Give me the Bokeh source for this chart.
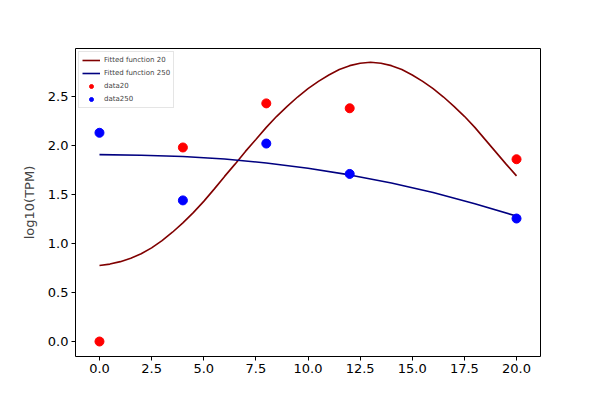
from bokeh.plotting import figure
from bokeh.models import Range1d, FixedTicker, PrintfTickFormatter, Legend, LegendItem
from bokeh.embed import file_html
from bokeh.resources import INLINE

# data points
x_data = [0, 4, 8, 12, 20]
data20 = [0.0, 1.98, 2.43, 2.38, 1.86]
data250 = [2.13, 1.44, 2.02, 1.71, 1.255]

# fitted curves
fit20_x = [0, 0.5, 1, 1.5, 2, 2.5, 3, 3.5, 4, 4.5, 5, 5.5, 6, 6.5, 7, 7.5, 8, 8.5, 9, 9.5,
           10, 10.5, 11, 11.5, 12, 12.5, 13, 13.5, 14, 14.5, 15, 15.5, 16, 16.5, 17, 17.5,
           18, 18.5, 19, 19.5, 20]
fit20 = [0.775, 0.79, 0.815, 0.85, 0.895, 0.955, 1.03, 1.115, 1.21, 1.315, 1.43, 1.555,
         1.685, 1.81, 1.94, 2.062, 2.185, 2.298, 2.40, 2.495, 2.58, 2.655, 2.72, 2.775,
         2.815, 2.84, 2.85, 2.84, 2.815, 2.775, 2.72, 2.655, 2.58, 2.495, 2.40, 2.298,
         2.185, 2.06, 1.935, 1.81, 1.69]
fit250_x = [0, 2, 4, 6, 8, 10, 12, 14, 16, 18, 20]
fit250 = [1.907, 1.901, 1.888, 1.862, 1.822, 1.768, 1.70, 1.617, 1.52, 1.405, 1.28]

x_ticks = [0, 2.5, 5, 7.5, 10, 12.5, 15, 17.5, 20]
y_ticks = [0, 0.5, 1.0, 1.5, 2.0, 2.5]

p = figure(width=584, height=384, output_backend="svg", toolbar_location=None,
           x_range=Range1d(-1.15, 21.15), y_range=Range1d(-0.153, 2.99),
           min_border_left=75, min_border_right=44, min_border_top=48, min_border_bottom=28)
p.xgrid.visible = False
p.ygrid.visible = False
p.outline_line_color = "black"
p.outline_line_width = 1

font = "DejaVu Sans"
for ax in (p.xaxis[0], p.yaxis[0]):
    ax.major_tick_in = 0
    ax.major_tick_out = 4
    ax.minor_tick_in = 0
    ax.minor_tick_out = 0
    ax.major_label_text_font = font
    ax.major_label_text_font_size = "13px"
    ax.major_label_text_color = "black"
    ax.axis_line_color = None
    ax.major_tick_line_color = "black"
    ax.major_label_standoff = 3
    ax.formatter = PrintfTickFormatter(format="%.1f")
p.xaxis.ticker = FixedTicker(ticks=x_ticks)
p.yaxis.ticker = FixedTicker(ticks=y_ticks)
p.yaxis.axis_label = "log10(TPM)"
p.yaxis.axis_label_text_font = font
p.yaxis.axis_label_text_font_size = "13px"
p.yaxis.axis_label_text_font_style = "normal"
p.yaxis.axis_label_standoff = 8

r1 = p.line(fit20_x, fit20, line_color="#800000", line_width=1.6)
r2 = p.line(fit250_x, fit250, line_color="#000080", line_width=1.6)
r3 = p.scatter(x_data, data20, size=9, fill_color="red", line_color="red")
r4 = p.scatter(x_data, data250, size=9, fill_color="blue", line_color="blue")

legend = Legend(items=[
    LegendItem(label="Fitted function 20", renderers=[r1]),
    LegendItem(label="Fitted function 250", renderers=[r2]),
    LegendItem(label="data20", renderers=[r3]),
    LegendItem(label="data250", renderers=[r4]),
], location="top_left")
legend.label_text_font = font
legend.label_text_font_size = "7px"
legend.glyph_height = 10
legend.glyph_width = 18
legend.label_height = 10
legend.label_standoff = 4
legend.spacing = 3
legend.padding = 3
legend.margin = 3
legend.border_line_color = "#cccccc"
legend.border_line_width = 1
p.add_layout(legend)

open("out.html", "w").write(file_html(p, INLINE))
